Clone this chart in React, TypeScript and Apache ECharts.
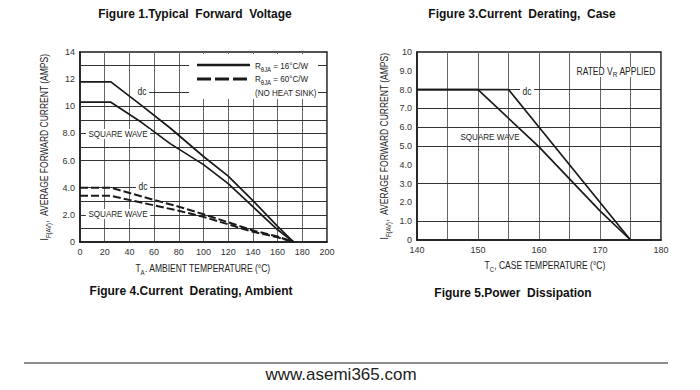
import React, { useEffect, useRef } from 'react';
import * as echarts from 'echarts';

// ---- Data: Figure 4 (ambient derating) ----
const ambDcSolid: [number, number][] = [[0, 11.8], [25, 11.8], [50, 10.05], [73, 8.4], [100, 6.3], [120, 4.85], [140, 3.05], [160, 1.15], [173, 0]];
const ambSqSolid: [number, number][] = [[0, 10.3], [25, 10.3], [50, 8.8], [73, 7.25], [100, 5.7], [120, 4.3], [140, 2.6], [160, 0.9], [173, 0]];
const ambDcDash: [number, number][] = [[0, 4.0], [25, 4.0], [60, 3.1], [80, 2.6], [100, 2.05], [120, 1.45], [140, 0.85], [160, 0.4], [173, 0]];
const ambSqDash: [number, number][] = [[0, 3.4], [25, 3.4], [60, 2.7], [80, 2.3], [100, 1.85], [120, 1.3], [140, 0.75], [160, 0.35], [173, 0]];
const ambYLabels = ['0', '2.0', '4.0', '6.0', '8.0', '10', '12', '14'];
const ambGridY = [1, 2, 3, 4, 6, 7, 8, 9, 10, 13];

// ---- Data: Figure 3/5 (case derating) ----
const caseDc: [number, number][] = [[140, 8], [155, 8], [175, 0]];
const caseSq: [number, number][] = [[140, 8], [150, 8], [160, 4.95], [170, 1.55], [175, 0]];
const caseYLabels = ['0', '1.0', '2.0', '3.0', '4.0', '5.0', '6.0', '7.0', '8.0', '9.0', '10'];
const caseGridY = [1, 3, 5, 6, 7, 8];

const NARROW = '"Liberation Sans Narrow", "Liberation Sans", Arial, sans-serif';
const SANS = '"Liberation Sans", Arial, sans-serif';
const INK = '#1a1a1a';
const SX = 0.85;

export default function App() {
  const ref = useRef<HTMLDivElement>(null);
  useEffect(() => {
    if (!ref.current) return;
    const chart = echarts.init(ref.current, undefined, { renderer: 'svg' });

    const axisLine = { show: true, lineStyle: { color: INK, width: 1.5 } };
    const labelStyle = { fontSize: 9, color: '#333', fontFamily: NARROW };
    const gridLine = { show: true, lineStyle: { color: '#666', width: 1 } };
    const markGrid = (vals: number[], extra: any[] = []) => ({
      silent: true,
      z: 1,
      symbol: ['none', 'none'],
      label: { show: false },
      lineStyle: { color: '#333', width: 1, type: 'solid' },
      emphasis: { disabled: true },
      data: [...vals.map((v) => ({ yAxis: v })), ...extra],
    });
    const solid = (name: string, data: [number, number][], gi: number) => ({
      name, type: 'line', xAxisIndex: gi, yAxisIndex: gi, data, z: 3,
      symbol: 'none', showSymbol: false, silent: true,
      lineStyle: { color: INK, width: 1.7 },
    });
    const dashed = (name: string, data: [number, number][], gi: number) => ({
      name, type: 'line', xAxisIndex: gi, yAxisIndex: gi, data, z: 3,
      symbol: 'none', showSymbol: false, silent: true,
      lineStyle: { color: INK, width: 2, type: [8, 3] },
    });

    const txt = (x: number, y: number, text: string, opts: any = {}) => ({
      type: 'text', x, y, z: 100, silent: true,
      rotation: opts.rotation || 0,
      scaleX: opts.sx ?? SX,
      style: {
        text,
        fill: opts.fill || '#222',
        font: opts.font || `9px ${NARROW}`,
        align: opts.align || 'center',
        verticalAlign: 'middle',
        backgroundColor: opts.bg,
        padding: opts.bg ? [0, 3] : undefined,
        rich: opts.rich,
      },
    });

    const subRich = (big: number, small: number) => ({
      a: { fontSize: big, fontFamily: NARROW, fill: '#222', color: '#222' },
      b: { fontSize: small, fontFamily: NARROW, fill: '#222', color: '#222', verticalAlign: 'bottom', padding: [0, 0, -1.5, 0] },
    });

    const option: any = {
      animation: false,
      backgroundColor: '#fff',
      grid: [
        { left: 80, top: 52, width: 247, height: 190, show: true, borderColor: INK, borderWidth: 1.5, backgroundColor: 'transparent' },
        { left: 417, top: 52, width: 244, height: 188, show: true, borderColor: INK, borderWidth: 1.5, backgroundColor: 'transparent' },
      ],
      xAxis: [
        {
          gridIndex: 0, type: 'value', min: 0, max: 200, interval: 20,
          axisLine, axisTick: { show: false },
          axisLabel: { ...labelStyle, margin: 5 },
          splitLine: gridLine,
        },
        {
          gridIndex: 1, type: 'value', min: 140, max: 180, interval: 5,
          axisLine, axisTick: { show: false },
          axisLabel: { ...labelStyle, margin: 5, formatter: (v: number) => (v % 10 === 0 ? String(v) : '') },
          splitLine: gridLine,
        },
      ],
      yAxis: [
        {
          gridIndex: 0, type: 'value', min: 0, max: 14, interval: 2,
          axisLine, axisTick: { show: false },
          axisLabel: { ...labelStyle, margin: 5, formatter: (v: number) => ambYLabels[Math.round(v / 2)] },
          splitLine: { show: false },
        },
        {
          gridIndex: 1, type: 'value', min: 0, max: 10, interval: 1,
          axisLine, axisTick: { show: false },
          axisLabel: { ...labelStyle, margin: 5, formatter: (v: number) => caseYLabels[Math.round(v)] },
          splitLine: { show: false },
        },
      ],
      series: [
        {
          type: 'line', xAxisIndex: 0, yAxisIndex: 0, data: [[0, 0]], z: 1, silent: true,
          symbol: 'none', showSymbol: false, lineStyle: { opacity: 0 },
          markLine: markGrid(ambGridY, [[{ coord: [55, 11] }, { coord: [200, 11] }]]),
        },
        {
          type: 'line', xAxisIndex: 1, yAxisIndex: 1, data: [[140, 0]], z: 1, silent: true,
          symbol: 'none', showSymbol: false, lineStyle: { opacity: 0 },
          markLine: markGrid(caseGridY),
        },
        solid('dc 16', ambDcSolid, 0),
        solid('sq 16', ambSqSolid, 0),
        dashed('dc 60', ambDcDash, 0),
        dashed('sq 60', ambSqDash, 0),
        solid('case dc', caseDc, 1),
        solid('case sq', caseSq, 1),
      ],
      graphic: [
        // titles
        txt(195, 14, 'Figure 1.Typical  Forward  Voltage', { font: `bold 12px ${SANS}`, fill: '#111', sx: 1 }),
        txt(191, 291, 'Figure 4.Current  Derating, Ambient', { font: `bold 12px ${SANS}`, fill: '#111', sx: 1 }),
        txt(522, 14, 'Figure 3.Current  Derating,  Case', { font: `bold 12px ${SANS}`, fill: '#111', sx: 1 }),
        txt(513, 293, 'Figure 5.Power  Dissipation', { font: `bold 12px ${SANS}`, fill: '#111', sx: 1 }),
        // axis names
        txt(203, 269, '{a|T}{b|A}{a|. AMBIENT TEMPERATURE (°C)}', { rich: subRich(10, 7) }),
        txt(545, 266, '{a|T}{b|C}{a|, CASE TEMPERATURE (°C)}', { rich: subRich(10, 7) }),
        txt(45, 147, '{a|I}{b|F(AV)}{a|,  AVERAGE FORWARD CURRENT (AMPS)}', { rotation: Math.PI / 2, rich: subRich(10, 7) }),
        txt(385, 146, '{a|I}{b|F(AV)}{a|,  AVERAGE FORWARD CURRENT (AMPS)}', { rotation: Math.PI / 2, rich: subRich(10, 7) }),
        // legend box (fig 4)
        { type: 'rect', z: 90, silent: true, shape: { x: 189, y: 54, width: 129, height: 45 }, style: { fill: '#fff' } },
        { type: 'line', z: 100, silent: true, shape: { x1: 197, y1: 65, x2: 250, y2: 65 }, style: { stroke: INK, lineWidth: 2.6 } },
        { type: 'line', z: 100, silent: true, shape: { x1: 197, y1: 79, x2: 250, y2: 79 }, style: { stroke: INK, lineWidth: 3, lineDash: [14, 4] } },
        txt(255, 66, '{a|R}{b|θJA}{a| = 16°C/W}', { align: 'left', rich: subRich(9.5, 7) }),
        txt(255, 79, '{a|R}{b|θJA}{a| = 60°C/W}', { align: 'left', rich: subRich(9.5, 7) }),
        txt(255, 93, '(NO HEAT SINK)', { align: 'left', font: `9.5px ${NARROW}` }),
        // curve labels (fig 4)
        txt(142, 92, 'dc', { bg: '#fff', font: `10px ${NARROW}` }),
        txt(118, 134, 'SQUARE WAVE', { bg: '#fff', font: `9.5px ${NARROW}` }),
        txt(143, 187, 'dc', { bg: '#fff', font: `10px ${NARROW}` }),
        txt(118, 214, 'SQUARE WAVE', { bg: '#fff', font: `9.5px ${NARROW}` }),
        // fig 3/5 labels
        txt(616, 72, '{a|RATED V}{b|R}{a| APPLIED}', { bg: '#fff', rich: subRich(10, 7.5) }),
        txt(527, 92, 'dc', { bg: '#fff', font: `10px ${NARROW}` }),
        txt(490, 137, 'SQUARE WAVE', { font: `9.5px ${NARROW}` }),
        // footer
        { type: 'line', z: 100, silent: true, shape: { x1: 24, y1: 363, x2: 668, y2: 363 }, style: { stroke: '#666', lineWidth: 1.5 } },
        txt(341, 374, 'www.asemi365.com', { font: `17px ${SANS}`, fill: '#222', sx: 1 }),
      ],
    };
    chart.setOption(option);
    return () => chart.dispose();
  }, []);

  return (
    <div
      ref={ref}
      style={{ position: 'absolute', left: 0, top: 0, width: 700, height: 390, background: '#fff' }}
    />
  );
}
